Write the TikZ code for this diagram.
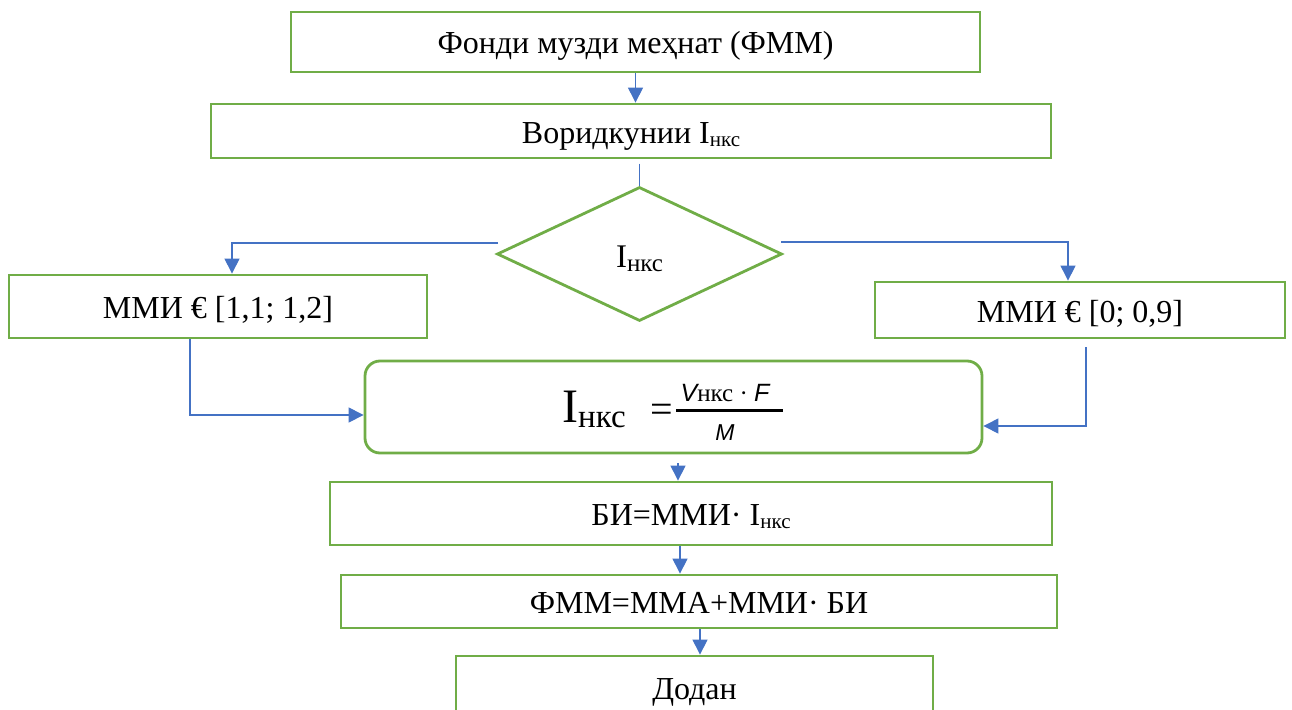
\documentclass[tikz,border=0pt]{standalone}
\usepackage{fontspec}
\setmainfont{Liberation Serif}
\newfontfamily\fracsans{Liberation Sans}
\usetikzlibrary{positioning,shapes.geometric,arrows.meta,calc}

\definecolor{boxgreen}{HTML}{70AD47}
\definecolor{linkblue}{HTML}{4472C4}

% lowered small text (shift, size, text)
\newcommand{\lowsub}[3]{\raisebox{-#1}{\fontsize{#2}{#2}\selectfont #3}}

\tikzset{
	box/.style={rectangle, draw=boxgreen, line width=2.8pt, inner sep=0pt,
		text height=26pt, text depth=2pt, font=\fontsize{32}{36}\selectfont},
	link/.style={draw=linkblue, line width=1.1pt},
	arr/.style={link, -{Triangle[length=15pt,width=15pt]}}
}

\begin{document}
\begin{tikzpicture}[x=1pt, y=-1pt]
	\useasboundingbox (0, 0) rectangle (1292, 709);

	\node[box, minimum width=689pt, minimum height=60pt]	(fmm)	at (635.5, 42)	{Фонди музди меҳнат (ФММ)};
	\node[box, minimum width=840pt, minimum height=54pt]	(vorid)	at (631, 131)	{Воридкунии I\lowsub{3pt}{21}{нкс}};
	\node[box, shape=diamond, minimum width=285pt, minimum height=134pt,
		text height=26pt, text depth=0pt, font=\fontsize{33}{36}\selectfont]	(test)	at (639.5, 254)	{I\lowsub{4pt}{25}{нкс}};
	\node[box, minimum width=418pt, minimum height=63pt]	(mmia)	at (218, 306.5)	{ММИ € [1,1; 1,2]};
	\node[box, minimum width=410pt, minimum height=56pt]	(mmib)	at (1080, 310)	{ММИ € [0; 0,9]};
	\node[box, rounded corners=15pt, minimum width=617pt, minimum height=92pt]	(calc)	at (673.5, 407)	{};
	\node[box, minimum width=722pt, minimum height=63pt]	(bi)	at (691, 513.5)	{БИ=ММИ· I\lowsub{3pt}{21}{нкс}};
	\node[box, minimum width=716pt, minimum height=53pt]	(fmmb)	at (699, 601.5)	{ФММ=ММА+ММИ· БИ};
	\node[box, minimum width=477pt, minimum height=62pt]	(dodan)	at (694.5, 687)	{Додан};

	% formula inside the rounded box
	\node[anchor=base west, inner sep=0pt, font=\fontsize{48}{50}\selectfont]	(lhs)	at (562, 422)	{I\lowsub{5pt}{33}{нкс}};
	\node[anchor=base west, inner sep=0pt, font=\fontsize{40}{44}\selectfont]	(eq)	at (650, 422)	{=};
	\node[anchor=base, inner sep=0pt, font=\fontsize{25}{28}\selectfont]	(num)	at (725, 401)	{{\fracsans\itshape V}нкс · {\fracsans\itshape F}};
	\node[anchor=base, inner sep=0pt, font=\fracsans\itshape\fontsize{23}{26}\selectfont]	(den)	at (725, 440)	{M};
	\draw[line width=3pt]	(676, 410) -- (783, 410);

	\coordinate (dl) at (498, 243);
	\coordinate (dr) at (781, 242);

	\draw[arr]	(fmm.south) -- (fmm.south |- vorid.north);
	\draw[link]	([yshift=22pt]test.north) -- (test.north);
	\draw[arr]	(dl) -| ([xshift=14pt]mmia.north);
	\draw[arr]	(dr) -| ([xshift=-12pt]mmib.north);
	\draw[arr]	([xshift=-28pt]mmia.south) |- ([yshift=-8pt]calc.west);
	\draw[arr]	([xshift=6pt, yshift=-8pt]mmib.south) |- ([yshift=-19pt]calc.east);
	\draw[arr]	([xshift=4.5pt, yshift=-9pt]calc.south) -- ([xshift=4.5pt]calc.south |- bi.north);
	\draw[arr]	([xshift=-11pt]bi.south) -- ([xshift=-11pt]bi.south |- fmmb.north);
	\draw[arr]	([xshift=1pt]fmmb.south) -- ([xshift=1pt]fmmb.south |- dodan.north);
\end{tikzpicture}
\end{document}
